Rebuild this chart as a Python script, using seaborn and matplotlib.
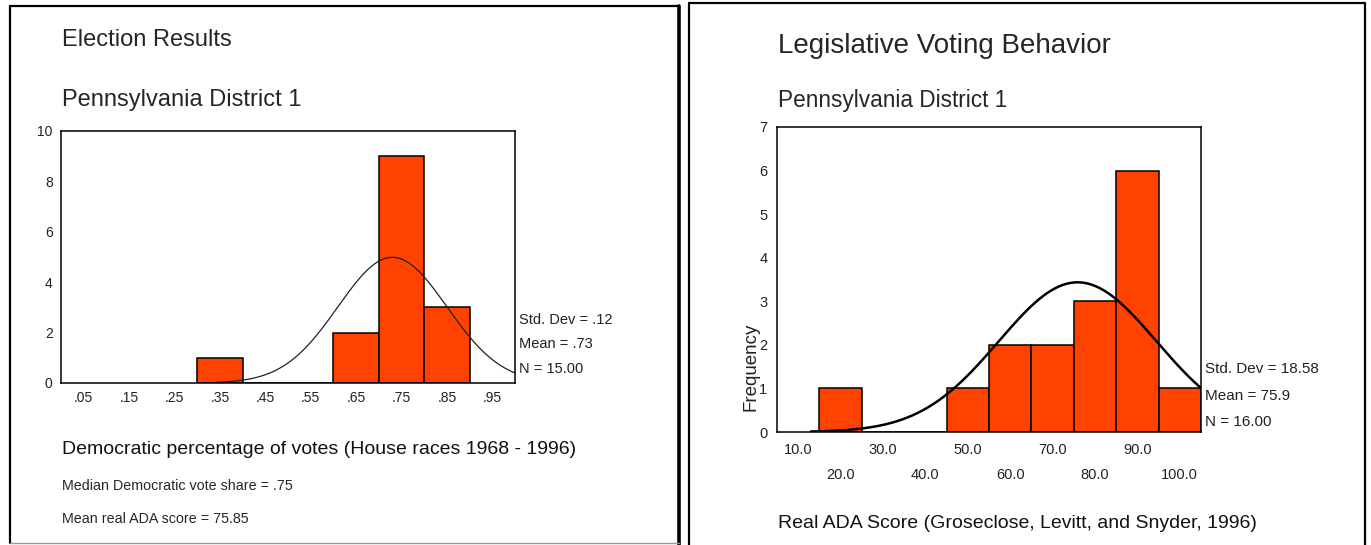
import numpy as np
import pandas as pd
import matplotlib
matplotlib.use("Agg")
import matplotlib.pyplot as plt
import seaborn as sns
from matplotlib.lines import Line2D

# ---------------- data ----------------
# Left: Democratic vote share histogram
vote_bin_centers = [0.35, 0.65, 0.75, 0.85]
vote_counts = [1, 2, 9, 3]
vote_bin_edges = [0.3, 0.4, 0.5, 0.6, 0.7, 0.8, 0.9]
vote_mean, vote_sd, vote_n, vote_binwidth = 0.73, 0.12, 15, 0.1
vote_xticks = [0.05, 0.15, 0.25, 0.35, 0.45, 0.55, 0.65, 0.75, 0.85, 0.95]
vote_xticklabels = [".05", ".15", ".25", ".35", ".45", ".55", ".65", ".75", ".85", ".95"]
vote_yticks = [0, 2, 4, 6, 8, 10]
vote_stats = ["Std. Dev = .12", "Mean = .73", "N = 15.00"]

# Right: real ADA score histogram
ada_bin_centers = [20, 50, 60, 70, 80, 90, 100]
ada_counts = [1, 1, 2, 2, 3, 6, 1]
ada_bin_edges = [15, 25, 35, 45, 55, 65, 75, 85, 95, 105]
ada_mean, ada_sd, ada_n, ada_binwidth = 75.9, 18.58, 16, 10
ada_xticks_row1 = [10, 30, 50, 70, 90]
ada_xticklabels_row1 = ["10.0", "30.0", "50.0", "70.0", "90.0"]
ada_xticks_row2 = [20, 40, 60, 80, 100]
ada_xticklabels_row2 = ["20.0", "40.0", "60.0", "80.0", "100.0"]
ada_yticks = [0, 1, 2, 3, 4, 5, 6, 7]
ada_stats = ["Std. Dev = 18.58", "Mean = 75.9", "N = 16.00"]

BAR = "#FF4200"

# ---------------- figure ----------------
sns.set_style("white")
plt.rcParams["font.family"] = ["Liberation Sans", "DejaVu Sans"]

W, H = 1371, 545
fig = plt.figure(figsize=(W / 100, H / 100), dpi=100)
fig.patch.set_facecolor("white")


def fx(x):
    return x / W


def fy(y):
    return 1 - y / H


def axes_px(x0, y0, x1, y1):
    return fig.add_axes([fx(x0), fy(y1), (x1 - x0) / W, (y1 - y0) / H])


def line_px(xs, ys, lw=1.5, color="black"):
    fig.add_artist(Line2D([fx(v) for v in xs], [fy(v) for v in ys],
                          transform=fig.transFigure, lw=lw, color=color))


# panel borders
line_px([10, 10], [6, 543], lw=1.6)
line_px([10, 679], [6, 6], lw=1.6)
line_px([679, 679], [6, 545], lw=2.6)
line_px([10, 679], [543, 543], lw=1.0, color="#999999")
line_px([689, 689], [3, 545], lw=1.6)
line_px([689, 1365], [3, 3], lw=1.6)
line_px([1365, 1365], [3, 545], lw=1.6)

# ---------- left chart ----------
ax1 = axes_px(61, 131, 515, 383)
sns.histplot(x=vote_bin_centers, weights=vote_counts, bins=vote_bin_edges,
             ax=ax1, color=BAR, edgecolor="black", linewidth=1.1, alpha=1)
xs = np.linspace(0.34, 1.0, 300)
ys = vote_n * vote_binwidth * np.exp(-0.5 * ((xs - vote_mean) / vote_sd) ** 2) / (vote_sd * np.sqrt(2 * np.pi))
sns.lineplot(x=xs, y=ys, ax=ax1, color="#222222", lw=0.9)
ax1.set_xlim(0, 1.0)
ax1.set_ylim(0, 10)
ax1.set_xticks(vote_xticks)
ax1.set_xticklabels(vote_xticklabels)
ax1.set_yticks(vote_yticks)
ax1.set_xlabel("")
ax1.set_ylabel("")
ax1.tick_params(axis="both", direction="out", length=3, width=2.5, color="black",
                labelsize=10, labelcolor="#222222")
ax1.tick_params(axis="x", pad=2.5)
ax1.tick_params(axis="y", pad=3)
for s in ax1.spines.values():
    s.set_visible(True)
    s.set_color("black")
    s.set_linewidth(1.1)

for i, t in enumerate(vote_stats):
    fig.text(fx(519), fy(320 + i * 24.5), t, fontsize=10.5, va="center", ha="left", color="#222222")

fig.text(fx(62), fy(40), "Election Results", fontsize=17, va="center", ha="left")
fig.text(fx(62), fy(100), "Pennsylvania District 1", fontsize=17, va="center", ha="left")
fig.text(fx(62), fy(449), "Democratic percentage of votes (House races 1968 - 1996)",
         fontsize=14, va="center", ha="left", color="#111111")
fig.text(fx(62), fy(486), "Median Democratic vote share = .75", fontsize=10.3, va="center", ha="left")
fig.text(fx(62), fy(519), "Mean real ADA score = 75.85", fontsize=10.3, va="center", ha="left")

# ---------- right chart ----------
ax2 = axes_px(777, 127, 1201, 432)
sns.histplot(x=ada_bin_centers, weights=ada_counts, bins=ada_bin_edges,
             ax=ax2, color=BAR, edgecolor="black", linewidth=1.1, alpha=1)
xs2 = np.linspace(13, 105, 300)
ys2 = ada_n * ada_binwidth * np.exp(-0.5 * ((xs2 - ada_mean) / ada_sd) ** 2) / (ada_sd * np.sqrt(2 * np.pi))
sns.lineplot(x=xs2, y=ys2, ax=ax2, color="black", lw=1.8)
ax2.set_xlim(5, 105)
ax2.set_ylim(0, 7)
ax2.set_xticks(ada_xticks_row1)
ax2.set_xticklabels(ada_xticklabels_row1)
ax2.set_xticks(ada_xticks_row2, minor=True)
ax2.set_xticklabels(ada_xticklabels_row2, minor=True)
ax2.set_yticks(ada_yticks)
ax2.set_xlabel("")
ax2.set_ylabel("")
ax2.tick_params(axis="both", which="both", direction="out", length=3, width=2.5,
                color="black", labelsize=10.5, labelcolor="#222222")
ax2.tick_params(axis="x", which="major", pad=5)
ax2.tick_params(axis="x", which="minor", pad=23)
ax2.tick_params(axis="y", pad=4)
for s in ax2.spines.values():
    s.set_visible(True)
    s.set_color("black")
    s.set_linewidth(1.1)

fig.text(fx(751), fy(367), "Frequency", fontsize=13.5, rotation=90, va="center", ha="center",
         color="#222222")

for i, t in enumerate(ada_stats):
    fig.text(fx(1205), fy(369 + i * 26.5), t, fontsize=11, va="center", ha="left", color="#222222")

fig.text(fx(778), fy(46), "Legislative Voting Behavior", fontsize=20, va="center", ha="left")
fig.text(fx(778), fy(101), "Pennsylvania District 1", fontsize=16.3, va="center", ha="left")
fig.text(fx(778), fy(523), "Real ADA Score (Groseclose, Levitt, and Snyder, 1996)",
         fontsize=14, va="center", ha="left", color="#111111")

fig.savefig("out.png", dpi=100, facecolor="white")
